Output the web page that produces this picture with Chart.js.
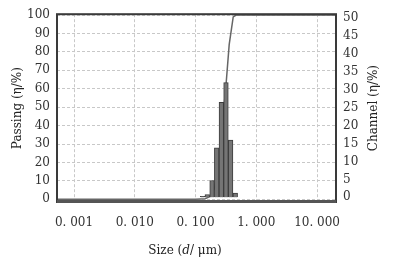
<!DOCTYPE html>
<html>
<head>
<meta charset="utf-8">
<script src="https://cdn.jsdelivr.net/npm/chart.js@4.4.1/dist/chart.umd.min.js"></script>
<style>
  html, body { margin: 0; padding: 0; background: #fff; }
  #wrap { width: 395px; height: 261px; }
</style>
</head>
<body>
<div id="wrap"><canvas id="psd" width="395" height="261"></canvas></div>
<script>
// channel histogram (right axis, %)
const channelSizes = [0.131, 0.156, 0.187, 0.223, 0.266, 0.317, 0.378, 0.451];
const channelValues = [0.3, 0.8, 4.7, 13.8, 26.5, 32, 16, 1.2];

// cumulative passing curve (left axis, %)
const passingSizes = [0.000525, 0.1, 0.144, 0.174, 0.206, 0.245, 0.285, 0.319, 0.358, 0.417, 0.467, 20.5];
const passingValues = [0, 0, 0.3, 1.5, 6, 20, 45, 63, 84, 99, 100, 100];

// tick labels
const xTickValues = [0.001, 0.01, 0.1, 1, 10];
const xTickLabels = ['0. 001', '0. 010', '0. 100', '1. 000', '10. 000'];
const leftTicks = [0, 10, 20, 30, 40, 50, 60, 70, 80, 90, 100];
const rightTicks = [0, 5, 10, 15, 20, 25, 30, 35, 40, 45, 50];

const serif = 'DejaVu Serif';
const tickFont = { family: serif, size: 12 };
const gridStyle = { color: '#c8c8c8', lineWidth: 1, drawTicks: false };

// frame round the plot + the two titles the scales can't lay out like the original
const framePlugin = {
    id: 'frame',
    afterDatasetsDraw(chart) {
        const { ctx, chartArea: a } = chart;
        ctx.save();
        ctx.strokeStyle = '#3a3a3a';
        ctx.lineWidth = 2;
        ctx.strokeRect(a.left, a.top, a.right - a.left, a.bottom - a.top);
        ctx.lineWidth = 3;
        ctx.strokeStyle = '#555';
        ctx.beginPath();
        ctx.moveTo(a.left, a.bottom - 0.5);
        ctx.lineTo(a.right, a.bottom - 0.5);
        ctx.stroke();
        ctx.restore();
    },
    afterDraw(chart) {
        const { ctx, chartArea: a } = chart;
        ctx.save();
        ctx.fillStyle = '#222';
        ctx.textBaseline = 'middle';

        // right title, reading bottom to top
        ctx.font = '12px "' + serif + '"';
        ctx.translate(374, (a.top + a.bottom) / 2);
        ctx.rotate(-Math.PI / 2);
        ctx.textAlign = 'center';
        ctx.fillText('Channel (η/%)', 0, 0);
        ctx.setTransform(1, 0, 0, 1, 0, 0);

        // x title with italic d
        const parts = [['Size (', ''], ['d', 'italic '], ['/ μm)', '']];
        let total = 0;
        parts.forEach(p => { ctx.font = p[1] + '12px "' + serif + '"'; total += ctx.measureText(p[0]).width; });
        let x = 185 - total / 2;
        ctx.textAlign = 'left';
        parts.forEach(p => {
            ctx.font = p[1] + '12px "' + serif + '"';
            ctx.fillText(p[0], x, 251);
            x += ctx.measureText(p[0]).width;
        });
        ctx.restore();
    }
};

const ctx = document.getElementById('psd').getContext('2d');
new Chart(ctx, {
    type: 'bar',
    data: {
        datasets: [{
            label: 'Channel',
            data: channelSizes.map((s, i) => ({ x: s, y: channelValues[i] })),
            backgroundColor: '#757575',
            borderColor: '#3c3c3c',
            borderWidth: 1,
            barPercentage: 1,
            categoryPercentage: 1,
            yAxisID: 'y1',
            order: 1
        }, {
            type: 'line',
            label: 'Passing',
            data: passingSizes.map((s, i) => ({ x: s, y: passingValues[i] })),
            borderColor: '#666',
            borderWidth: 1.5,
            pointRadius: 0,
            tension: 0,
            yAxisID: 'y',
            order: 2
        }]
    },
    options: {
        responsive: false,
        animation: false,
        layout: { padding: { top: 8, left: 0, right: 0, bottom: 0 } },
        plugins: {
            legend: { display: false },
            tooltip: { enabled: false }
        },
        scales: {
            x: {
                type: 'logarithmic',
                min: 0.000525,
                max: 20.5,
                offset: false,
                grid: { ...gridStyle, offset: false },
                border: { display: false, dash: [3, 2] },
                afterBuildTicks: s => { s.ticks = xTickValues.map(v => ({ value: v })); },
                afterFit: s => { s.height = 59; },
                ticks: {
                    font: tickFont,
                    color: '#333',
                    padding: 14,
                    maxRotation: 0,
                    callback: (v, i) => xTickLabels[i]
                }
            },
            y: {
                position: 'left',
                min: -1.5,
                max: 100.5,
                grid: gridStyle,
                border: { display: false, dash: [3, 2] },
                afterBuildTicks: s => { s.ticks = leftTicks.map(v => ({ value: v })); },
                afterFit: s => { s.width = 57; },
                ticks: { font: tickFont, color: '#333', padding: 7 },
                title: {
                    display: true,
                    text: 'Passing (η/%)',
                    font: { family: serif, size: 12 },
                    color: '#222',
                    padding: { top: 11, bottom: 0 }
                }
            },
            y1: {
                position: 'right',
                min: -1.3,
                max: 51.1,
                grid: { display: false, drawTicks: false },
                border: { display: false },
                afterBuildTicks: s => { s.ticks = rightTicks.map(v => ({ value: v })); },
                afterFit: s => { s.width = 59; },
                ticks: { font: tickFont, color: '#333', padding: 7 }
            }
        }
    },
    plugins: [framePlugin]
});
</script>
</body>
</html>
